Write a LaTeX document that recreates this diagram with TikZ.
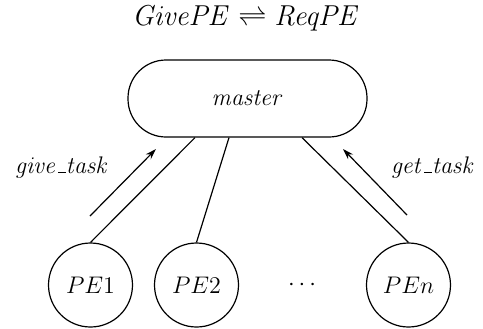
\documentclass[tikz,border=0pt]{standalone}
\usetikzlibrary{arrows.meta}
\newcommand{\shortus}{\kern.06em\vbox{\hrule width.3em}}
\begin{document}
\begin{tikzpicture}[x=0.5pt,y=-0.5pt,
  every node/.style={font=\fontsize{12}{14}\selectfont},
  pe/.style={draw,circle,minimum size=84*0.5pt,inner sep=0pt,line width=0.6pt},
  masterbox/.style={draw,rectangle,rounded corners=19pt,minimum width=239*0.5pt,minimum height=77*0.5pt,line width=0.6pt},
  conn/.style={line width=0.6pt},
  lbl/.style={font=\fontsize{13}{15}\selectfont},
  flow/.style={line width=0.6pt,-{Stealth[length=5.5pt,width=3.5pt]}}]
\useasboundingbox (0,0) rectangle (483,328);
\node[inner sep=0pt] (title) at (246,18) {\fontsize{14}{16}\selectfont$\mathit{GivePE} \rightleftharpoons \mathit{ReqPE}$};
\node[masterbox] (master) at (247.5,98.5) {$\mathit{master}$};
\node[pe] (pe1) at (90.5,285) {$PE1$};
\node[pe] (pe2) at (196.5,285) {$PE2$};
\node (dots) at (302,285) {$\cdots$};
\node[pe] (pen) at (408.5,285) {$PEn$};
\coordinate (m1) at ([xshift=-52.5*0.5pt]master.south);
\coordinate (m2) at ([xshift=-18.5*0.5pt]master.south);
\coordinate (mn) at ([xshift=54.5*0.5pt]master.south);
\draw[conn] (pe1.north) -- (m1);
\draw[conn] (pe2.north) -- (m2);
\draw[conn] (pen.north) -- (mn);
\coordinate (a1s) at (90,216);
\coordinate (a1e) at (156,149);
\coordinate (a2s) at (407,215);
\coordinate (a2e) at (343,149);
\draw[flow] (a1s) -- (a1e);
\draw[flow] (a2s) -- (a2e);
\node[lbl] (gt) at (62,167) {$\mathit{give}\shortus\mathit{task}$};
\node[lbl] (gett) at (433,167) {$\mathit{get}\shortus\mathit{task}$};
\end{tikzpicture}
\end{document}
